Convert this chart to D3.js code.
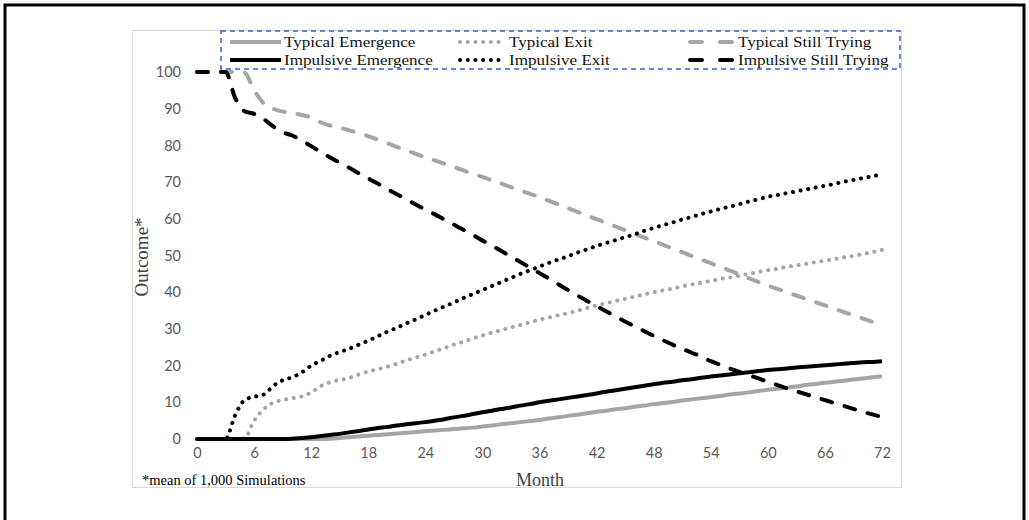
<!DOCTYPE html>
<html>
<head>
<meta charset="utf-8">
<script src="https://cdn.jsdelivr.net/npm/d3@7/dist/d3.min.js"></script>
<style>
  html, body { margin: 0; padding: 0; background: #fff; }
  svg { display: block; }
</style>
</head>
<body>
<svg id="chart" width="1029" height="520"></svg>
<script>
// ---------------- DATA ----------------
const months = d3.range(0, 73);   // 0..72
const xTicks = [0, 6, 12, 18, 24, 30, 36, 42, 48, 54, 60, 66, 72];
const yTicks = [0, 10, 20, 30, 40, 50, 60, 70, 80, 90, 100];

const typicalEmergence = [
  0,0,0,0,0,0,0,0,0,0, 0,0,0,0,0.1,0.3,0.5,0.7,0.9,1.1,
  1.3,1.5,1.7,1.9,2.1,2.3,2.5,2.7,2.9,3.1, 3.4,3.7,4.0,4.3,4.6,4.9,5.2,5.6,5.9,6.3,
  6.6,7.0,7.4,7.7,8.1,8.4,8.8,9.1,9.5,9.8, 10.1,10.5,10.8,11.1,11.4,11.7,12.1,12.4,12.7,13.1,
  13.4,13.7,14.0,14.3,14.7,15.0,15.3,15.6,15.9,16.2, 16.5,16.8,17.1
];
const typicalExit = [
  0,0,0,0,0,0.2,5.0,8.1,9.9,10.6, 11.1,11.6,12.7,14.4,15.5,16.1,16.6,17.6,18.4,19.0,
  19.7,20.5,21.4,22.2,23.0,23.9,24.8,25.7,26.5,27.4, 28.2,29.0,29.7,30.4,31.1,31.8,32.5,33.1,33.7,34.3,
  35.0,35.7,36.4,37.0,37.6,38.2,38.8,39.4,40.0,40.5, 41.0,41.6,42.1,42.6,43.1,43.6,44.0,44.5,45.0,45.5,
  46.0,46.4,46.9,47.3,47.7,48.2,48.6,49.0,49.5,49.9, 50.4,50.9,51.5
];
const typicalStill = [
  100,100,100,100,100,99.8,95,91.5,90,89.2, 88.8,88.3,87.6,86.3,85.4,84.8,84.1,83.3,82.5,81.6,
  80.6,79.6,78.7,77.7,76.8,75.9,75.0,74.1,73.2,72.3, 71.4,70.5,69.6,68.6,67.7,66.8,65.9,64.9,63.9,62.9,
  61.9,60.9,59.9,58.9,57.9,56.9,55.9,54.9,53.9,52.9, 51.9,50.9,49.9,48.9,47.9,46.9,45.9,44.9,43.8,42.8,
  41.8,40.9,40.0,39.1,38.2,37.3,36.4,35.5,34.6,33.7, 32.8,31.9,31.0
];
const impulsiveEmergence = [
  0,0,0,0,0,0,0,0,0,0, 0.1,0.3,0.5,0.8,1.1,1.4,1.8,2.2,2.6,3.0,
  3.3,3.7,4.0,4.3,4.6,5.0,5.4,5.9,6.3,6.8, 7.3,7.7,8.2,8.6,9.1,9.5,10.0,10.4,10.8,11.2,
  11.6,12.0,12.4,12.9,13.3,13.7,14.1,14.5,14.9,15.3, 15.6,16.0,16.3,16.7,17.0,17.3,17.6,17.9,18.2,18.5,
  18.8,19.0,19.2,19.5,19.7,19.9,20.1,20.3,20.5,20.7, 20.9,21.0,21.2
];
const impulsiveExit = [
  0,0,0,0,6.4,10.6,11.5,12.1,14.4,16.0, 16.8,18.1,20.0,21.3,22.7,23.7,24.6,25.7,26.8,28.0,
  29.2,30.3,31.5,32.6,33.8,35.0,36.1,37.2,38.4,39.5, 40.6,41.7,42.8,43.9,45.0,46.0,47.0,48.0,48.9,49.8,
  50.8,51.7,52.6,53.4,54.2,55.0,55.8,56.7,57.5,58.3, 59.0,59.8,60.5,61.3,62.0,62.7,63.3,64.0,64.7,65.3,
  66.0,66.5,67.0,67.5,68.0,68.5,69.0,69.5,70.1,70.6, 71.1,71.6,72.2
];
const impulsiveStill = [
  100,100,100,100,93,89.3,88.6,87.2,85.2,83.6, 82.7,81.3,79.8,78.2,76.7,75.3,73.9,72.4,71.0,69.6,
  68.1,66.7,65.3,63.9,62.5,61.2,59.8,58.4,57.0,55.6, 54.1,52.7,51.2,49.7,48.2,46.7,45.2,43.7,42.1,40.6,
  39.1,37.6,36.2,34.8,33.4,32.0,30.7,29.4,28.1,26.9, 25.7,24.6,23.5,22.5,21.2,20.2,19.2,18.3,17.4,16.5,
  15.6,14.7,13.8,13.0,12.2,11.4,10.6,9.8,9.0,8.2, 7.4,6.7,6.0
];

const seriesNames = ["Typical Emergence", "Typical Exit", "Typical Still Trying",
                     "Impulsive Emergence", "Impulsive Exit", "Impulsive Still Trying"];
const seriesValues = [typicalEmergence, typicalExit, typicalStill,
                      impulsiveEmergence, impulsiveExit, impulsiveStill];

// ---------------- STYLES ----------------
const GRAY = "#a5a5a5", BLACK = "#000000";
const styles = [
  { color: GRAY,  width: 4, dash: null,      cap: "butt"  },
  { color: GRAY,  width: 4, dash: "0.1 7.6", cap: "round" },
  { color: GRAY,  width: 4, dash: "11 13",   cap: "round" },
  { color: BLACK, width: 4, dash: null,      cap: "butt"  },
  { color: BLACK, width: 4, dash: "0.1 7.6", cap: "round" },
  { color: BLACK, width: 4, dash: "11 13",   cap: "round" }
];

const svg = d3.select("#chart");

// outer frame
svg.append("rect").attr("x", 5).attr("y", 5).attr("width", 1019).attr("height", 522)
  .attr("fill", "none").attr("stroke", "#000").attr("stroke-width", 3);

// chart area border
svg.append("rect").attr("x", 132.5).attr("y", 30.5).attr("width", 769).attr("height", 457)
  .attr("fill", "#fff").attr("stroke", "#d9d9d9").attr("stroke-width", 1);

const x = d3.scaleLinear().domain([0, 72]).range([197, 882]);
const y = d3.scaleLinear().domain([0, 100]).range([439, 72]);

// axes
const xAxis = svg.append("g").attr("transform", "translate(0,439)")
  .call(d3.axisBottom(x).tickValues(xTicks).tickSize(0).tickPadding(9));
const yAxis = svg.append("g").attr("transform", "translate(197,0)")
  .call(d3.axisLeft(y).tickValues(yTicks).tickSize(0).tickPadding(16));
[xAxis, yAxis].forEach(g => {
  g.select(".domain").remove();
  g.selectAll("text").attr("font-family", "Lato, 'Noto Sans', sans-serif")
    .attr("font-size", 14.5).attr("fill", "#595959");
});

// lines
const line = d3.line().x((d, i) => x(months[i])).y(d => y(d)).curve(d3.curveMonotoneX);
seriesValues.forEach((vals, k) => {
  const s = styles[k];
  svg.append("path").datum(vals).attr("d", line)
    .attr("fill", "none").attr("stroke", s.color).attr("stroke-width", s.width)
    .attr("stroke-dasharray", s.dash).attr("stroke-linecap", s.cap)
    .attr("stroke-linejoin", "round");
});

// legend
svg.append("rect").attr("x", 221).attr("y", 31).attr("width", 679).attr("height", 38)
  .attr("fill", "none").attr("stroke", "#2f62d0").attr("stroke-width", 1.5)
  .attr("stroke-dasharray", "5 4");
const legCols = [{ x1: 230, x2: 281, tx: 284 }, { x1: 460, x2: 505, tx: 509 }, { x1: 690, x2: 734, tx: 738 }];
const legRows = [42, 60];
seriesNames.forEach((name, k) => {
  const col = legCols[k % 3], row = legRows[Math.floor(k / 3)], s = styles[k];
  const g = svg.append("g");
  g.append("line").attr("x1", col.x1).attr("x2", col.x2).attr("y1", row).attr("y2", row)
    .attr("stroke", s.color).attr("stroke-width", s.width)
    .attr("stroke-dasharray", k % 3 === 2 ? "12 18" : s.dash).attr("stroke-linecap", s.cap);
  g.append("text").attr("transform", `translate(${col.tx},${row + 5}) scale(1.1,1)`).text(name)
    .attr("font-family", "'Liberation Serif', 'Times New Roman', serif")
    .attr("font-size", 15.5).attr("fill", "#111");
});

// axis titles
svg.append("text").attr("x", 540).attr("y", 486).attr("text-anchor", "middle").text("Month")
  .attr("font-family", "'Liberation Serif', serif").attr("font-size", 18).attr("fill", "#404040");
svg.append("text").attr("transform", "translate(148,257) rotate(-90)").attr("text-anchor", "middle")
  .text("Outcome*").attr("font-family", "'Liberation Serif', serif").attr("font-size", 19)
  .attr("fill", "#404040");
svg.append("text").attr("x", 142).attr("y", 485).text("*mean of 1,000 Simulations")
  .attr("font-family", "'Liberation Serif', serif").attr("font-size", 14.5).attr("fill", "#000");
</script>
</body>
</html>
